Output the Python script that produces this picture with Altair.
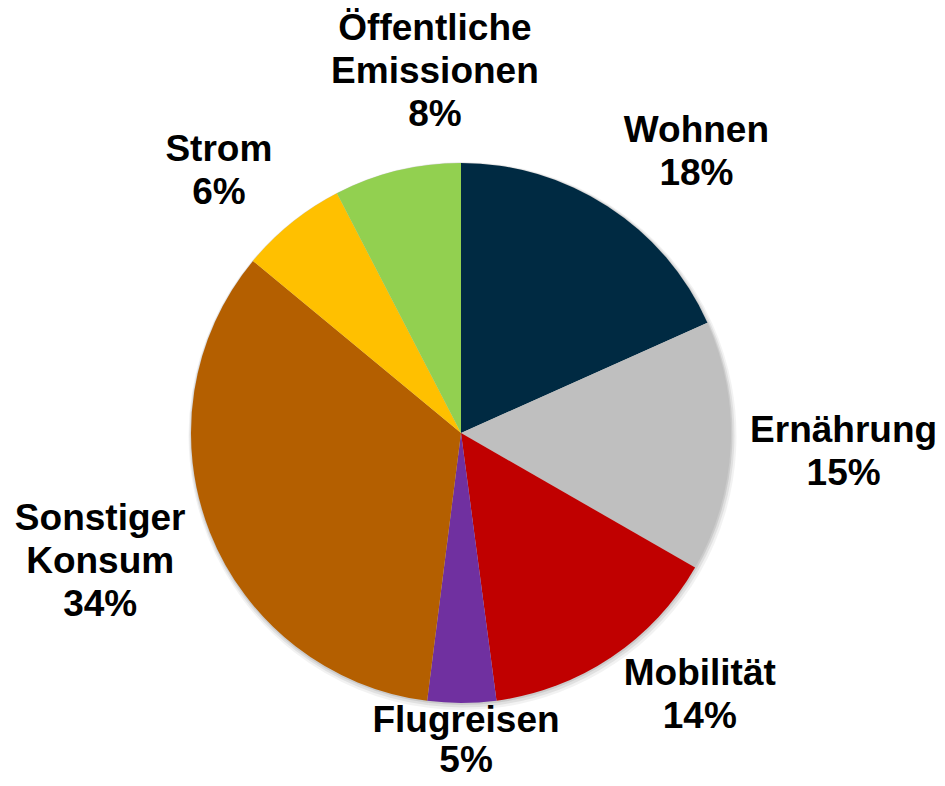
import altair as alt
import pandas as pd

categories = ["Wohnen", "Ernährung", "Mobilität", "Flugreisen",
              "Sonstiger Konsum", "Strom", "Öffentliche Emissionen"]
values = [18.3, 15.0, 14.6, 4.1, 34.0, 6.4, 7.6]
pct_labels = ["18%", "15%", "14%", "5%", "34%", "6%", "8%"]
label_lines = [["Wohnen"], ["Ernährung"], ["Mobilität"], ["Flugreisen"],
               ["Sonstiger", "Konsum"], ["Strom"], ["Öffentliche", "Emissionen"]]
colors = ["#002A42", "#BFBFBF", "#C00000", "#7030A0",
          "#B45F00", "#FFC000", "#92D050"]

df = pd.DataFrame({
    "cat": categories,
    "val": values,
    "order": list(range(len(categories))),
})

# layout (label nudges, px) kept separate from the data
CX, CY, R, LR = 453, 425, 270, 330
FS, LH = 37, 43
nudges = {
    "Wohnen": (56, -4), "Ernährung": (53, 3), "Mobilität": (55, -12),
    "Flugreisen": (4, -22), "Sonstiger Konsum": (-54, 8),
    "Strom": (-35, -5), "Öffentliche Emissionen": (52, -40),
}
line_heights = {"Flugreisen": 40}

color_scale = alt.Scale(domain=categories, range=colors)
theta = alt.Theta("val:Q", stack=True)
order = alt.Order("order:Q")

layers = []
# soft shadow
for extra, off, op in [(4, 3, 0.05), (2.5, 2, 0.07), (1, 1, 0.09)]:
    layers.append(alt.Chart(df).mark_arc(
        radius=R + extra, color="#000000", opacity=op, strokeWidth=0,
    ).encode(theta=theta, order=order, x=alt.value(CX + off / 2), y=alt.value(CY + off)))

pie = alt.Chart(df).mark_arc(radius=R).encode(
    theta=theta,
    color=alt.Color("cat:N", scale=color_scale, legend=None),
    order=order,
    x=alt.value(CX),
    y=alt.value(CY),
)
layers.append(pie)

for cat, lines, pct in zip(categories, label_lines, pct_labels):
    dx, dy = nudges[cat]
    lh = line_heights.get(cat, LH)
    n = len(lines) + 1
    dy = dy - (n - 1) * lh / 2
    ldf = df.copy()
    ldf["label"] = [lines + [pct] if c == cat else [""] for c in df["cat"]]
    txt = alt.Chart(ldf).mark_text(
        radius=LR, dx=dx, dy=dy, font="Liberation Sans", fontWeight="bold",
        fontSize=FS, lineHeight=lh, align="center", baseline="middle",
        color="#000000",
    ).encode(
        theta=theta,
        order=order,
        text="label",
        x=alt.value(CX),
        y=alt.value(CY),
    )
    layers.append(txt)

chart = alt.layer(*layers).properties(
    width=929, height=770, padding=0, autosize="none",
).configure_view(stroke=None)

chart.save("out.html", embed_options={"renderer": "svg", "actions": False})
